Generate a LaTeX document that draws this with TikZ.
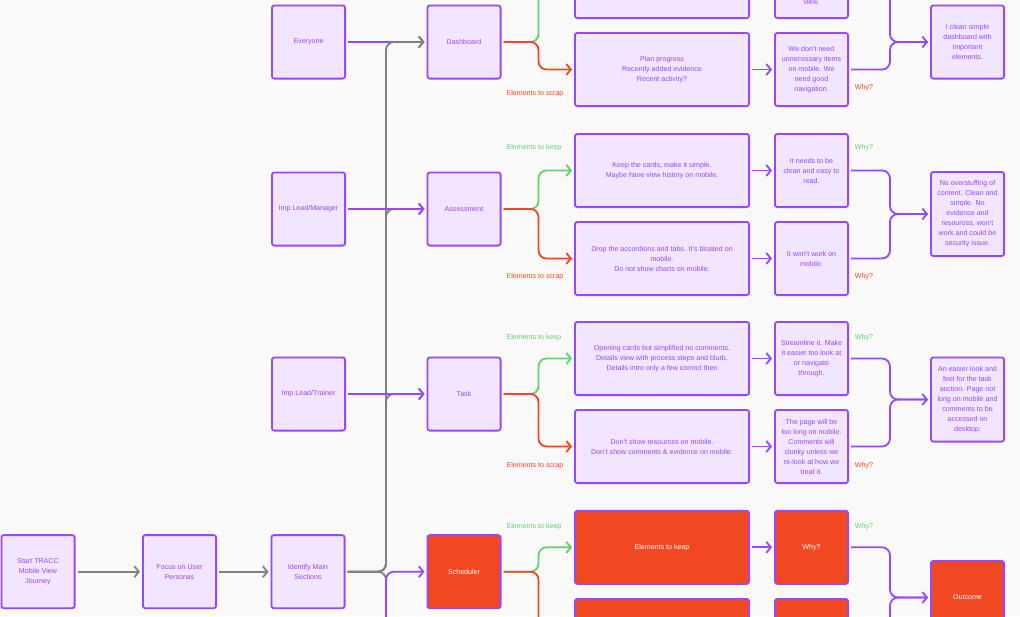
\documentclass[tikz,border=0pt]{standalone}
\usepackage{fontspec}
\setmainfont{Liberation Sans}
\usetikzlibrary{arrows.meta}
\definecolor{pur}{HTML}{9747FF}
\definecolor{lav}{HTML}{F1E5FF}
\definecolor{grn}{HTML}{66D06E}
\definecolor{rd}{HTML}{F24822}
\definecolor{gry}{HTML}{808080}
\definecolor{bg}{HTML}{F9F9F9}
\begin{document}
\begin{tikzpicture}[x=1pt,y=-1pt,
  box/.style={draw=pur, fill=lav, line width=1.8pt, rounded corners=2.5pt, text=pur, align=center,
    font=\fontsize{7.1}{10}\selectfont, inner sep=1pt},
  hot/.style={box, fill=rd, text=white},
  sq/.style={minimum width=73.2pt, minimum height=73.2pt},
  wide/.style={minimum width=174.2pt, minimum height=73.2pt},
  tall/.style={minimum width=73.2pt, minimum height=84.2pt},
  tip/.style={-{Straight Barb[length=4.5pt,width=11pt]}},
  con/.style={line width=1.8pt, rounded corners=8pt, shorten <=2pt, shorten >=2pt},
  pl/.style={con, draw=pur}, gl/.style={con, draw=grn}, rl/.style={con, draw=rd}, yl/.style={con, draw=gry},
  lbl/.style={font=\fontsize{7.1}{9}\selectfont, inner sep=0},
  keep/.style={lbl, text=grn}, scrap/.style={lbl, text=rd}]
\useasboundingbox (0,0) rectangle (1020,616);
\fill[bg] (0,0) rectangle (1020,616);
\clip (0,0) rectangle (1020,616);

% bottom row
\node[box,sq] (start) at (38,571.7) {Start TRACC\\Mobile View\\Journey};
\node[box,sq] (focus) at (179.5,571.7) {Focus on User\\Personas};
\node[box,sq] (ident) at (308,571.7) {Identify Main\\Sections};

% personas
\node[box,sq] (every) at (308.5,42) {Everyone};
\node[box,sq] (mgr) at (308.5,209) {Imp Lead/Manager};
\node[box,sq] (trn) at (308.5,394) {Imp Lead/Trainer};

% sections
\node[box,sq] (dash) at (464,42) {Dashboard};
\node[box,sq] (assess) at (464,209) {Assessment};
\node[box,sq] (task) at (464,394) {Task};
\node[hot,sq] (sched) at (464,571.7) {Scheduler};

% dashboard row
\node[box,wide] (dup) at (662,-18.5) {};
\node[box,sq] (dwu) at (811.5,-18.5) {};
\node[lbl,text=pur] (dview) at (811.5,2) {view.};
\node[box,wide] (dlow) at (662,69.5) {Plan progress\\Recently added evidence\\Recent activity?};
\node[box,sq] (dwl) at (811.5,69.5) {We don’t need\\unnecessary items\\on mobile. We\\need good\\navigation.};
\node[box,sq] (dout) at (967.5,42) {I clean simple\\dashboard with\\important\\elements.};

% assessment row
\node[box,wide] (aup) at (662,170.5) {Keep the cards, make it simple.\\Maybe have view history on mobile.};
\node[box,sq] (awu) at (811.5,170.5) {It needs to be\\clean and easy to\\read.};
\node[box,wide] (alow) at (662,258.5) {Drop the accordions and tabs. It’s bloated on\\mobile.\\Do not show charts on mobile.};
\node[box,sq] (awl) at (811.5,258.5) {It won’t work on\\mobile.};
\node[box,tall] (aout) at (967.5,214) {No overstuffing of\\content. Clean and\\simple. No\\evidence and\\resources, won’t\\work and could be\\security issue.};

% task row
\node[box,wide] (tup) at (662,358.5) {Opening cards but simplified no comments.\\Details view with process steps and blurb.\\Details intro only a few correct then};
\node[box,sq] (twu) at (811.5,358.5) {Streamline it. Make\\it easier too look at\\or navigate\\through.};
\node[box,wide] (tlow) at (662,446.5) {Don’t show resources on mobile.\\Don’t show comments \& evidence on mobile.};
\node[box,sq] (twl) at (811.5,446.5) {The page will be\\too long on mobile.\\Comments will\\clunky unless we\\re-look at how we\\treat it.};
\node[box,tall] (tout) at (967.5,399.5) {An easier look and\\feel for the task\\section. Page not\\long on mobile and\\comments to be\\accessed on\\desktop.};

% scheduler row
\node[hot,wide] (sup) at (662,547.3) {Elements to keep};
\node[hot,sq] (swu) at (811.5,547.3) {Why?};
\node[hot,wide] (slow) at (662,635.5) {};
\node[hot,sq] (swl) at (811.5,635.5) {};
\node[hot,sq] (sout) at (967.5,597.5) {Outcome};

% labels
\node[scrap] (l1) at (535,94) {Elements to scrap};
\node[scrap] (l2) at (864,88) {Why?};
\node[keep] (l3) at (534,148) {Elements to keep};
\node[keep] (l4) at (864,148) {Why?};
\node[scrap] (l5) at (535,277) {Elements to scrap};
\node[scrap] (l6) at (864,277) {Why?};
\node[keep] (l7) at (534,338) {Elements to keep};
\node[keep] (l8) at (864,338) {Why?};
\node[scrap] (l9) at (535,466) {Elements to scrap};
\node[scrap] (l10) at (864,466) {Why?};
\node[keep] (l11) at (534,527) {Elements to keep};
\node[keep] (l12) at (864,527) {Why?};

% start flow
\draw[yl,tip] (start) -- (focus);
\draw[yl,tip] (focus) -- (ident);

\coordinate (below) at (386,650);
\draw[pl,tip] (every) -- (dash);
\draw[yl] (ident.east) -- (386,571.7) -- (below);
\draw[yl,tip] (ident.east) -- (386,571.7) -- (386,394) -- (task.west);
\draw[yl,tip] (ident.east) -- (386,571.7) -- (386,209) -- (assess.west);
\draw[yl,tip] (ident.east) -- (386,571.7) -- (386,42) -- (dash.west);
\draw[pl,tip] (mgr) -- (assess);
\draw[pl,tip] (trn) -- (task);
\draw[pl,tip] (below) -- (386,571.7) -- (sched.west);

% branches
\foreach \s/\u/\l in {dash/dup/dlow, assess/aup/alow, task/tup/tlow, sched/sup/slow}{
  \draw[gl,tip] (\s.east) -- ++(37,0) |- (\u.west);
  \draw[rl,tip] (\s.east) -- ++(37,0) |- (\l.west);
}
% to why
\foreach \a/\b in {dup/dwu, dlow/dwl, aup/awu, alow/awl, tup/twu, tlow/twl, sup/swu, slow/swl}{
  \draw[pl,tip] (\a) -- (\b);
}
% merges
\foreach \u/\l/\o in {dwu/dwl/dout, awu/awl/aout, twu/twl/tout, swu/swl/sout}{
  \path (\o.west) ++(-40,0) coordinate (m\o);
  \draw[pl] (\u.east) -| (m\o) -- (\o.west);
  \draw[pl,tip] (\l.east) -| (m\o) -- (\o.west);
}
\end{tikzpicture}
\end{document}
